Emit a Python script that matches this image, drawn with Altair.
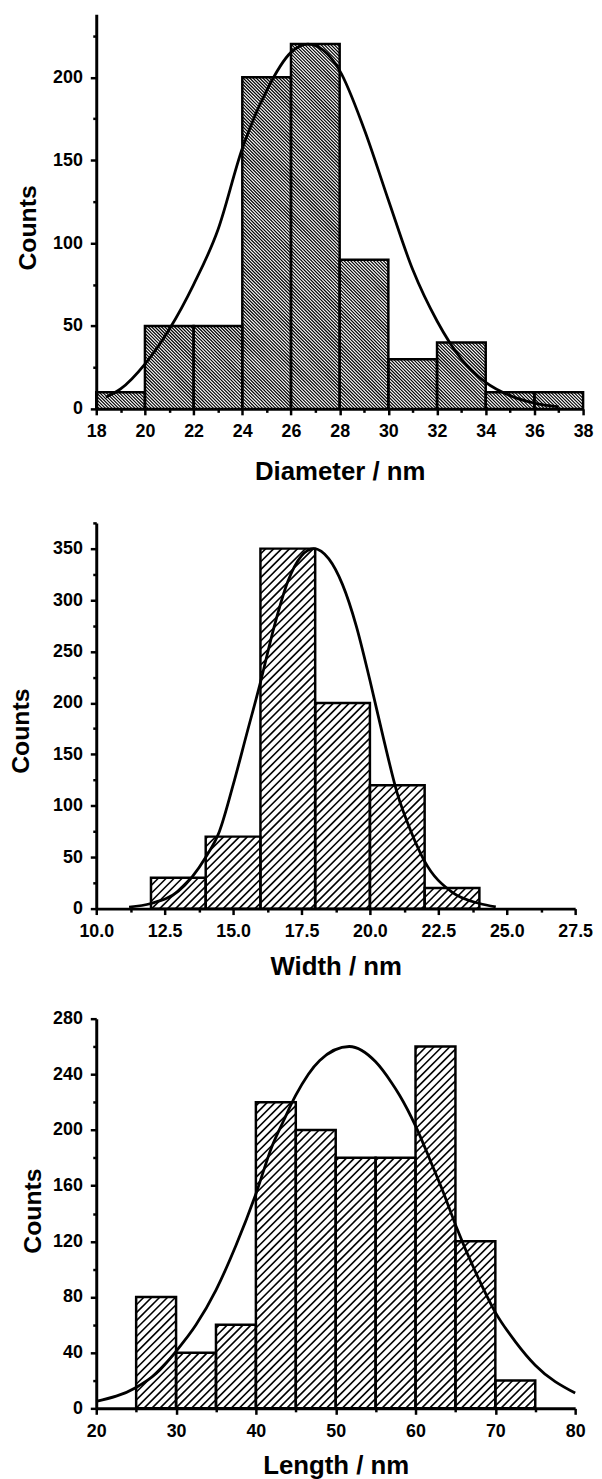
import math
import altair as alt
import pandas as pd

FONT = "Liberation Sans"

# ---------------- Panel 1: Diameter ----------------
d_edges = [18, 20, 22, 24, 26, 28, 30, 32, 34, 36, 38]
d_counts = [10, 50, 50, 200, 220, 90, 30, 40, 10, 10]
d_fit_x = [18.4, 19, 20, 21, 22, 23, 24, 25, 26, 26.7, 27.5, 28, 29, 30, 31, 32, 33, 34, 35, 36, 37]
d_fit_y = [7, 12, 27, 48, 75, 108, 157, 192, 215, 220, 214, 204, 169, 126, 84, 53, 30, 16, 8, 3.5, 1.2]
d_xmajor = [18, 20, 22, 24, 26, 28, 30, 32, 34, 36, 38]
d_xminor = [19, 21, 23, 25, 27, 29, 31, 33, 35, 37]
d_ymajor = [0, 50, 100, 150, 200]
d_yminor = [25, 75, 125, 175, 225]

# ---------------- Panel 2: Width ----------------
w_edges = [12, 14, 16, 18, 20, 22, 24]
w_counts = [30, 70, 350, 200, 120, 20]
w_fit_x = [11.2, 12, 13, 14, 14.5, 15, 15.5, 16, 16.5, 17, 17.5, 17.95, 18.5, 19, 19.5, 20, 20.5, 21, 21.5, 22, 23, 24, 24.6]
w_fit_y = [1.5, 5, 17, 50, 75, 120, 170, 220, 274, 318, 343, 350, 340, 315, 275, 222, 165, 112, 75, 46, 16, 5, 1.8]
w_xmajor = [10.0, 12.5, 15.0, 17.5, 20.0, 22.5, 25.0, 27.5]
w_xminor = [11.25, 13.75, 16.25, 18.75, 21.25, 23.75, 26.25]
w_ymajor = [0, 50, 100, 150, 200, 250, 300, 350]
w_yminor = [25, 75, 125, 175, 225, 275, 325, 375]

# ---------------- Panel 3: Length ----------------
l_edges = [25, 30, 35, 40, 45, 50, 55, 60, 65, 70, 75]
l_counts = [80, 40, 60, 220, 200, 180, 180, 260, 120, 20]
l_fit_x = [20, 25, 27.5, 30, 32.5, 35, 37.5, 40, 42, 43.5, 45, 48, 51.7, 55, 57, 58, 60, 62, 63.5, 65, 68, 70, 72.5, 75, 80]
l_fit_y = [5, 15, 25, 41, 60, 85, 117, 154, 188, 207, 225, 250, 260, 249, 234, 225, 203, 176, 155, 132, 92, 69, 48, 31, 11]
l_xmajor = [20, 30, 40, 50, 60, 70, 80]
l_xminor = [25, 35, 45, 55, 65, 75]
l_ymajor = [0, 40, 80, 120, 160, 200, 240, 280]
l_yminor = [20, 60, 100, 140, 180, 220, 260]


def hatch(edges, counts, xdom, ydom, width, height, direction, period):
    """Hatch segments clipped to each bar, built in pixel space and mapped back to data."""
    sx = width / (xdom[1] - xdom[0])
    sy = height / (ydom[1] - ydom[0])
    rows = []
    for i, c in enumerate(counts):
        L = (edges[i] - xdom[0]) * sx
        R = (edges[i + 1] - xdom[0]) * sx
        T = (c - ydom[0]) * sy
        B = 0.0
        if direction == "/":
            kmin, kmax = B - R, T - L
            k = math.ceil(kmin / period) * period
            while k <= kmax:
                x0 = max(L, B - k)
                x1 = min(R, T - k)
                if x1 > x0:
                    rows.append((x0, x0 + k, x1, x1 + k))
                k += period
        else:
            kmin, kmax = L + B, R + T
            k = math.ceil(kmin / period) * period
            while k <= kmax:
                x0 = max(L, k - T)
                x1 = min(R, k - B)
                if x1 > x0:
                    rows.append((x0, k - x0, x1, k - x1))
                k += period
    return pd.DataFrame(
        [
            {
                "hx": a / sx + xdom[0],
                "hy": b / sy + ydom[0],
                "hx2": c / sx + xdom[0],
                "hy2": d / sy + ydom[0],
            }
            for a, b, c, d in rows
        ]
    )


def make_axis(major, minor, title, fmt, title_pad, orient, title_size, title_y=None):
    vals = sorted(major + minor)
    test = f"indexof({major}, datum.value) >= 0"
    kw = {}
    if title_y is not None:
        kw["titleY"] = title_y
    return alt.Axis(
        values=vals,
        title=title,
        format=fmt,
        labelExpr=f"{test} ? datum.label : ''",
        tickSize={"condition": {"test": test, "value": 6}, "value": 3.5},
        tickWidth=2.5,
        tickColor="black",
        domainColor="black",
        domainWidth=3,
        labelFont=FONT,
        labelFontWeight="bold",
        labelFontSize=18,
        labelColor="black",
        labelPadding=8,
        labelOverlap=False,
        labelFlush=False,
        titleFont=FONT,
        titleFontWeight="bold",
        titleFontSize=title_size,
        titleColor="black",
        titlePadding=title_pad,
        grid=False,
        orient=orient,
        **kw,
    )


def panel(edges, counts, fx, fy, xdom, ydom, xmaj, xmin, ymaj, ymin, xtitle, xfmt,
          width, height, direction, period, hw, xtp, ytp, ytitle_shift):
    bars = pd.DataFrame({"x0": edges[:-1], "x1": edges[1:], "c": counts})
    fit = pd.DataFrame({"fx": fx, "fy": fy})
    hat = hatch(edges, counts, xdom, ydom, width, height, direction, period)

    xs = alt.Scale(domain=xdom, nice=False, zero=False)
    ys = alt.Scale(domain=ydom, nice=False, zero=False)
    xa = make_axis(xmaj, xmin, xtitle, xfmt, xtp, "bottom", 26)
    ya = make_axis(ymaj, ymin, "Counts", "d", ytp, "left", 25, height / 2 + ytitle_shift)

    hatch_layer = alt.Chart(hat).mark_rule(color="black", strokeWidth=hw).encode(
        x=alt.X("hx:Q", scale=xs, axis=xa),
        x2="hx2:Q",
        y=alt.Y("hy:Q", scale=ys, axis=ya),
        y2="hy2:Q",
    )
    outline = alt.Chart(bars).mark_rect(
        fillOpacity=0, stroke="black", strokeWidth=2.5
    ).encode(
        x=alt.X("x0:Q", scale=xs, axis=xa),
        x2="x1:Q",
        y=alt.Y("c:Q", scale=ys, axis=ya),
        y2=alt.datum(0),
    )
    curve = alt.Chart(fit).mark_line(
        color="black", strokeWidth=2.8, interpolate="monotone"
    ).encode(
        x=alt.X("fx:Q", scale=xs, axis=xa),
        y=alt.Y("fy:Q", scale=ys, axis=ya),
    )
    return alt.layer(hatch_layer, outline, curve).properties(width=width, height=height)


p1 = panel(d_edges, d_counts, d_fit_x, d_fit_y, [18, 38], [0, 238],
           d_xmajor, d_xminor, d_ymajor, d_yminor, "Diameter / nm", "d",
           491, 398, "\\", 3.3, 1.2, 18, 12, 16)
p2 = panel(w_edges, w_counts, w_fit_x, w_fit_y, [10, 27.5], [0, 375],
           w_xmajor, w_xminor, w_ymajor, w_yminor, "Width / nm", ".1f",
           483, 389, "/", 8, 1.6, 13.5, 19, 15)
p3 = panel(l_edges, l_counts, l_fit_x, l_fit_y, [20, 80], [0, 280],
           l_xmajor, l_xminor, l_ymajor, l_yminor, "Length / nm", "d",
           483, 393, "/", 8, 1.6, 12.8, 7, -3)

chart = alt.vconcat(p1, p2, p3, spacing=30).properties(padding=0).configure_view(
    stroke=None
)

chart.save("out.html", embed_options={"renderer": "svg", "actions": False})
